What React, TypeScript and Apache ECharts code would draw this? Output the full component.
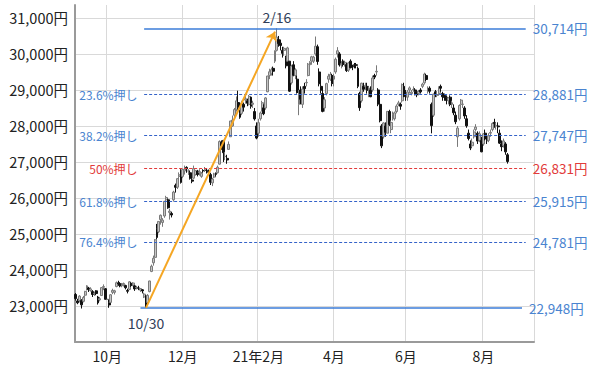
import React, { useEffect, useRef } from 'react';
import * as echarts from 'echarts';

// [date, open, close, low, high]
const candleRows: [string, number, number, number, number][] = [
  ['2020-09-04', 23320, 23205, 23150, 23360],
  ['2020-09-07', 23140, 23089, 23050, 23200],
  ['2020-09-08', 23150, 23274, 23100, 23300],
  ['2020-09-09', 23150, 23032, 22930, 23190],
  ['2020-09-10', 23130, 23235, 23100, 23280],
  ['2020-09-11', 23300, 23406, 23230, 23420],
  ['2020-09-14', 23480, 23559, 23430, 23580],
  ['2020-09-15', 23500, 23454, 23390, 23530],
  ['2020-09-16', 23430, 23475, 23400, 23520],
  ['2020-09-17', 23400, 23319, 23250, 23440],
  ['2020-09-18', 23340, 23360, 23280, 23400],
  ['2020-09-23', 23420, 23346, 23300, 23440],
  ['2020-09-24', 23250, 23087, 23040, 23280],
  ['2020-09-25', 23170, 23204, 23130, 23250],
  ['2020-09-28', 23290, 23511, 23280, 23520],
  ['2020-09-29', 23520, 23539, 23440, 23600],
  ['2020-09-30', 23480, 23185, 23180, 23500],
  ['2020-10-01', 23185, 23185, 23185, 23185],
  ['2020-10-02', 23100, 23029, 22950, 23180],
  ['2020-10-05', 23100, 23312, 23080, 23330],
  ['2020-10-06', 23380, 23433, 23330, 23480],
  ['2020-10-07', 23380, 23422, 23320, 23450],
  ['2020-10-08', 23540, 23647, 23520, 23680],
  ['2020-10-09', 23640, 23619, 23560, 23700],
  ['2020-10-12', 23620, 23558, 23520, 23660],
  ['2020-10-13', 23560, 23601, 23520, 23640],
  ['2020-10-14', 23590, 23626, 23540, 23650],
  ['2020-10-15', 23570, 23507, 23460, 23590],
  ['2020-10-16', 23430, 23410, 23350, 23480],
  ['2020-10-19', 23460, 23671, 23440, 23690],
  ['2020-10-20', 23630, 23567, 23530, 23660],
  ['2020-10-21', 23580, 23639, 23550, 23660],
  ['2020-10-22', 23560, 23474, 23420, 23580],
  ['2020-10-23', 23500, 23516, 23460, 23560],
  ['2020-10-26', 23500, 23494, 23440, 23560],
  ['2020-10-27', 23440, 23485, 23390, 23500],
  ['2020-10-28', 23450, 23418, 23350, 23470],
  ['2020-10-29', 23250, 23331, 23220, 23370],
  ['2020-10-30', 23280, 22977, 22948, 23300],
  ['2020-11-02', 23100, 23295, 23050, 23330],
  ['2020-11-04', 23400, 23695, 23380, 23700],
  ['2020-11-05', 23960, 24105, 23940, 24150],
  ['2020-11-06', 24200, 24325, 24120, 24400],
  ['2020-11-09', 24350, 24839, 24340, 24860],
  ['2020-11-10', 25150, 24905, 24850, 25280],
  ['2020-11-11', 25060, 25349, 25020, 25350],
  ['2020-11-12', 25400, 25520, 25260, 25540],
  ['2020-11-13', 25320, 25385, 25200, 25440],
  ['2020-11-16', 25500, 25906, 25450, 25920],
  ['2020-11-17', 25950, 26014, 25850, 26060],
  ['2020-11-18', 25950, 25728, 25700, 25980],
  ['2020-11-19', 25600, 25634, 25400, 25700],
  ['2020-11-20', 25570, 25527, 25460, 25620],
  ['2020-11-24', 25950, 26165, 25900, 26200],
  ['2020-11-25', 26350, 26296, 26150, 26400],
  ['2020-11-26', 26300, 26537, 26250, 26550],
  ['2020-11-27', 26600, 26644, 26500, 26710],
  ['2020-11-30', 26750, 26433, 26400, 26800],
  ['2020-12-01', 26600, 26787, 26550, 26820],
  ['2020-12-02', 26750, 26800, 26650, 26900],
  ['2020-12-03', 26850, 26809, 26700, 26880],
  ['2020-12-04', 26750, 26751, 26640, 26800],
  ['2020-12-07', 26700, 26547, 26510, 26760],
  ['2020-12-08', 26500, 26467, 26410, 26550],
  ['2020-12-09', 26550, 26817, 26530, 26900],
  ['2020-12-10', 26650, 26756, 26620, 26780],
  ['2020-12-11', 26750, 26652, 26600, 26780],
  ['2020-12-14', 26700, 26732, 26620, 26800],
  ['2020-12-15', 26600, 26687, 26560, 26720],
  ['2020-12-16', 26760, 26757, 26700, 26800],
  ['2020-12-17', 26800, 26806, 26720, 26860],
  ['2020-12-18', 26770, 26763, 26680, 26810],
  ['2020-12-21', 26740, 26714, 26650, 26790],
  ['2020-12-22', 26650, 26436, 26360, 26700],
  ['2020-12-23', 26420, 26524, 26330, 26560],
  ['2020-12-24', 26580, 26668, 26550, 26700],
  ['2020-12-25', 26680, 26656, 26600, 26710],
  ['2020-12-28', 26700, 26854, 26680, 26900],
  ['2020-12-29', 26940, 27568, 26930, 27600],
  ['2020-12-30', 27550, 27444, 27340, 27600],
  ['2021-01-04', 27600, 27258, 27000, 27600],
  ['2021-01-05', 27150, 27158, 27050, 27280],
  ['2021-01-06', 27100, 27055, 26950, 27200],
  ['2021-01-07', 27350, 27490, 27340, 27570],
  ['2021-01-08', 27700, 28139, 27700, 28140],
  ['2021-01-12', 28000, 28164, 27980, 28290],
  ['2021-01-13', 28300, 28456, 28250, 28500],
  ['2021-01-14', 28450, 28698, 28400, 28820],
  ['2021-01-15', 28650, 28519, 28450, 28980],
  ['2021-01-18', 28350, 28242, 28200, 28450],
  ['2021-01-19', 28350, 28633, 28300, 28700],
  ['2021-01-20', 28600, 28523, 28400, 28650],
  ['2021-01-21', 28720, 28756, 28620, 28850],
  ['2021-01-22', 28700, 28631, 28550, 28760],
  ['2021-01-25', 28600, 28822, 28570, 28860],
  ['2021-01-26', 28800, 28546, 28480, 28810],
  ['2021-01-27', 28600, 28635, 28500, 28700],
  ['2021-01-28', 28400, 28197, 28150, 28500],
  ['2021-01-29', 28000, 27663, 27630, 28100],
  ['2021-02-01', 27800, 28091, 27700, 28200],
  ['2021-02-02', 28200, 28362, 28150, 28400],
  ['2021-02-03', 28500, 28646, 28400, 28700],
  ['2021-02-04', 28500, 28341, 28300, 28600],
  ['2021-02-05', 28500, 28779, 28450, 28800],
  ['2021-02-08', 28950, 29388, 28940, 29390],
  ['2021-02-09', 29400, 29505, 29300, 29590],
  ['2021-02-10', 29450, 29562, 29400, 29620],
  ['2021-02-12', 29600, 29520, 29400, 29650],
  ['2021-02-15', 29800, 30084, 29750, 30100],
  ['2021-02-16', 30100, 30467, 30070, 30714],
  ['2021-02-17', 30400, 30292, 30200, 30500],
  ['2021-02-18', 30300, 30236, 30100, 30400],
  ['2021-02-19', 30100, 30017, 29900, 30200],
  ['2021-02-22', 30100, 30156, 29950, 30200],
  ['2021-02-24', 29900, 29671, 29600, 29950],
  ['2021-02-25', 29800, 30168, 29800, 30200],
  ['2021-02-26', 29800, 28966, 28950, 29800],
  ['2021-03-01', 29200, 29663, 29150, 29700],
  ['2021-03-02', 29700, 29408, 29380, 29800],
  ['2021-03-03', 29400, 29559, 29300, 29600],
  ['2021-03-04', 29300, 28930, 28900, 29400],
  ['2021-03-05', 28600, 28864, 28300, 29000],
  ['2021-03-08', 29000, 28743, 28600, 29100],
  ['2021-03-09', 28600, 29027, 28500, 29100],
  ['2021-03-10', 29100, 29036, 28900, 29200],
  ['2021-03-11', 29200, 29211, 29100, 29300],
  ['2021-03-12', 29400, 29717, 29380, 29750],
  ['2021-03-15', 29700, 29766, 29600, 29800],
  ['2021-03-16', 29800, 29921, 29700, 29950],
  ['2021-03-17', 29800, 29914, 29750, 29950],
  ['2021-03-18', 30000, 30216, 29950, 30485],
  ['2021-03-19', 30200, 29792, 29700, 30260],
  ['2021-03-22', 29500, 29174, 29100, 29600],
  ['2021-03-23', 29100, 28995, 28900, 29200],
  ['2021-03-24', 28900, 28405, 28380, 29000],
  ['2021-03-25', 28500, 28729, 28400, 28800],
  ['2021-03-26', 28900, 29176, 28850, 29200],
  ['2021-03-29', 29300, 29384, 29200, 29450],
  ['2021-03-30', 29300, 29432, 29250, 29500],
  ['2021-03-31', 29400, 29178, 29100, 29450],
  ['2021-04-01', 29300, 29388, 29100, 29450],
  ['2021-04-02', 29500, 29854, 29450, 29900],
  ['2021-04-05', 30000, 30089, 29900, 30190],
  ['2021-04-06', 30000, 29696, 29650, 30050],
  ['2021-04-07', 29700, 29730, 29600, 29800],
  ['2021-04-08', 29800, 29708, 29650, 29850],
  ['2021-04-09', 29700, 29768, 29650, 29800],
  ['2021-04-12', 29700, 29538, 29500, 29750],
  ['2021-04-13', 29550, 29751, 29500, 29780],
  ['2021-04-14', 29800, 29620, 29600, 29850],
  ['2021-04-15', 29650, 29642, 29550, 29700],
  ['2021-04-16', 29700, 29683, 29600, 29750],
  ['2021-04-19', 29700, 29685, 29600, 29750],
  ['2021-04-20', 29600, 29100, 29050, 29650],
  ['2021-04-21', 28900, 28508, 28420, 28950],
  ['2021-04-22', 28700, 29188, 28650, 29200],
  ['2021-04-23', 29100, 29020, 28950, 29200],
  ['2021-04-26', 29100, 29126, 29000, 29200],
  ['2021-04-27', 29100, 28991, 28900, 29200],
  ['2021-04-28', 28900, 29053, 28800, 29100],
  ['2021-04-30', 29000, 28812, 28800, 29100],
  ['2021-05-06', 29000, 29331, 28950, 29400],
  ['2021-05-07', 29400, 29357, 29300, 29450],
  ['2021-05-10', 29500, 29518, 29400, 29685],
  ['2021-05-11', 29000, 28608, 28550, 29050],
  ['2021-05-12', 28600, 28147, 28100, 28800],
  ['2021-05-13', 28000, 27448, 27385, 28050],
  ['2021-05-14', 27700, 28084, 27650, 28100],
  ['2021-05-17', 28000, 27824, 27700, 28100],
  ['2021-05-18', 27800, 28406, 27800, 28410],
  ['2021-05-19', 28400, 28044, 28000, 28450],
  ['2021-05-20', 27900, 28098, 27800, 28150],
  ['2021-05-21', 28200, 28317, 28150, 28400],
  ['2021-05-24', 28200, 28364, 28150, 28400],
  ['2021-05-25', 28400, 28553, 28350, 28600],
  ['2021-05-26', 28600, 28642, 28550, 28700],
  ['2021-05-27', 28600, 28549, 28450, 28650],
  ['2021-05-28', 28700, 29149, 28650, 29180],
  ['2021-05-31', 29100, 28860, 28800, 29200],
  ['2021-06-01', 28900, 28814, 28700, 29000],
  ['2021-06-02', 28800, 28946, 28700, 29000],
  ['2021-06-03', 29000, 29058, 28900, 29100],
  ['2021-06-04', 28900, 28941, 28850, 29000],
  ['2021-06-07', 29000, 29019, 28950, 29100],
  ['2021-06-08', 29000, 28963, 28850, 29050],
  ['2021-06-09', 28950, 28860, 28800, 29000],
  ['2021-06-10', 28900, 28958, 28850, 29000],
  ['2021-06-11', 29000, 28948, 28900, 29050],
  ['2021-06-14', 29100, 29161, 29050, 29200],
  ['2021-06-15', 29200, 29441, 29150, 29480],
  ['2021-06-16', 29400, 29291, 29250, 29450],
  ['2021-06-17', 29000, 29018, 28900, 29100],
  ['2021-06-18', 29050, 28964, 28900, 29100],
  ['2021-06-21', 28600, 28010, 27795, 28650],
  ['2021-06-22', 28300, 28884, 28250, 28900],
  ['2021-06-23', 28950, 28874, 28800, 29000],
  ['2021-06-24', 28850, 28875, 28800, 28950],
  ['2021-06-25', 28900, 29066, 28850, 29100],
  ['2021-06-28', 29100, 29048, 28950, 29150],
  ['2021-06-29', 28900, 28812, 28700, 28950],
  ['2021-06-30', 28850, 28791, 28700, 28900],
  ['2021-07-01', 28800, 28707, 28600, 28850],
  ['2021-07-02', 28700, 28783, 28600, 28800],
  ['2021-07-05', 28800, 28598, 28550, 28850],
  ['2021-07-06', 28600, 28643, 28500, 28700],
  ['2021-07-07', 28500, 28366, 28300, 28600],
  ['2021-07-08', 28300, 28118, 28050, 28400],
  ['2021-07-09', 27700, 27940, 27419, 28000],
  ['2021-07-12', 28200, 28569, 28150, 28600],
  ['2021-07-13', 28600, 28718, 28500, 28750],
  ['2021-07-14', 28600, 28608, 28500, 28700],
  ['2021-07-15', 28500, 28279, 28200, 28550],
  ['2021-07-16', 28200, 28003, 27950, 28300],
  ['2021-07-19', 27800, 27652, 27600, 27900],
  ['2021-07-20', 27500, 27388, 27330, 27600],
  ['2021-07-21', 27450, 27548, 27400, 27650],
  ['2021-07-26', 27700, 27833, 27650, 27900],
  ['2021-07-27', 27900, 27970, 27850, 28050],
  ['2021-07-28', 27800, 27581, 27500, 27850],
  ['2021-07-29', 27600, 27782, 27550, 27850],
  ['2021-07-30', 27600, 27283, 27270, 27700],
  ['2021-08-02', 27500, 27781, 27450, 27800],
  ['2021-08-03', 27800, 27641, 27600, 27900],
  ['2021-08-04', 27600, 27584, 27500, 27700],
  ['2021-08-05', 27600, 27728, 27550, 27800],
  ['2021-08-06', 27800, 27820, 27700, 27900],
  ['2021-08-10', 27900, 28070, 27850, 28100],
  ['2021-08-11', 28100, 28070, 27950, 28200],
  ['2021-08-12', 28000, 28015, 27900, 28100],
  ['2021-08-13', 28000, 27977, 27800, 28100],
  ['2021-08-16', 27800, 27523, 27500, 27900],
  ['2021-08-17', 27500, 27424, 27300, 27600],
  ['2021-08-18', 27450, 27585, 27400, 27650],
  ['2021-08-19', 27500, 27281, 27200, 27550],
  ['2021-08-20', 27200, 27013, 26954, 27250],
];

// empty trading days to the right of the last candle
const futureDays = [
  '2021-08-23', '2021-08-24', '2021-08-25', '2021-08-26', '2021-08-27',
  '2021-08-30', '2021-08-31', '2021-09-01', '2021-09-02', '2021-09-03',
  '2021-09-06', '2021-09-07', '2021-09-08', '2021-09-09',
];

const monthTickDates = ['2020-10-01', '2020-12-01', '2021-02-01', '2021-04-01', '2021-06-01', '2021-08-02'];
const monthTickLabels = ['10月', '12月', '21年2月', '4月', '6月', '8月'];

const fibLevels = [30714, 28881, 27747, 26831, 25915, 24781, 22948];
const fibNames = ['', '23.6%押し', '38.2%押し', '50%押し', '61.8%押し', '76.4%押し', ''];
const fibStart = '2020-10-29';
const fibEnd = '2021-09-03';
const lowLineStart = '2020-10-27';
const lowLineEnd = '2021-09-01';

const swingLow = { date: '2020-10-30', value: 22948, label: '10/30' };
const swingHigh = { date: '2021-02-16', value: 30714, label: '2/16' };
const arrowTip = { date: '2021-02-15', value: 30620 };

const FONT = "'Noto Sans CJK JP', 'Noto Sans', sans-serif";
const BLUE_LINE = '#3b7dd8';
const BLUE_DASH = '#3563c9';
const BLUE_TEXT = '#4a84d0';
const RED = '#e23b3b';

const fmt = (v: number) => v.toLocaleString('en-US') + '円';

export default function App() {
  const ref = useRef<HTMLDivElement>(null);

  useEffect(() => {
    if (!ref.current) return;
    const chart = echarts.init(ref.current, null, { renderer: 'svg' });
    const dates = [...candleRows.map((r) => r[0]), ...futureDays];
    const values = candleRows.map((r) => [r[1], r[2], r[3], r[4]]);
    const last = fibLevels.length - 1;

    const levelLines = fibLevels.map((v, i) => {
      const edge = i === 0 || i === last;
      const half = fibNames[i] === '50%押し';
      const color = half ? RED : edge ? BLUE_LINE : BLUE_DASH;
      return [
        {
          coord: [i === last ? lowLineStart : fibStart, v],
          symbol: 'none',
          lineStyle: { color, width: edge ? 1.5 : 1.2, type: edge ? 'solid' : [3, 2] },
          label: {
            show: true,
            position: 'end',
            formatter: () => fmt(v),
            color: half ? RED : BLUE_TEXT,
            fontSize: 13.5,
            fontFamily: FONT,
            distance: 7,
          },
        },
        { coord: [i === last ? lowLineEnd : fibEnd, v], symbol: 'none' },
      ];
    });

    const arrow = [
      {
        coord: [swingLow.date, swingLow.value],
        symbol: 'none',
        lineStyle: { color: '#f5a623', width: 2, type: 'solid' },
        label: { show: false },
      },
      { coord: [arrowTip.date, arrowTip.value], symbol: 'arrow', symbolSize: 9 },
    ];

    const leftLabels = fibLevels
      .map((v, i) => ({ v, name: fibNames[i] }))
      .filter((d) => d.name)
      .map((d) => ({
        coord: [fibStart, d.v],
        symbol: 'circle',
        symbolSize: 1,
        itemStyle: { color: 'rgba(0,0,0,0)' },
        label: {
          show: true,
          position: 'left',
          distance: 6,
          formatter: () => d.name,
          color: d.name === '50%押し' ? RED : BLUE_TEXT,
          fontSize: 12,
          fontFamily: FONT,
        },
      }));

    const swingLabels = [
      {
        coord: [swingLow.date, swingLow.value],
        symbol: 'circle',
        symbolSize: 1,
        itemStyle: { color: 'rgba(0,0,0,0)' },
        label: { show: true, position: 'bottom', distance: 8, formatter: () => swingLow.label, color: '#2f3d58', fontSize: 14, fontFamily: FONT },
      },
      {
        coord: [swingHigh.date, swingHigh.value],
        symbol: 'circle',
        symbolSize: 1,
        itemStyle: { color: 'rgba(0,0,0,0)' },
        label: { show: true, position: 'top', distance: 4, formatter: () => swingHigh.label, color: '#2f3d58', fontSize: 14, fontFamily: FONT },
      },
    ];

    const isTick = (_i: number, v: string) => monthTickDates.includes(v);

    chart.setOption({
      animation: false,
      backgroundColor: '#ffffff',
      textStyle: { fontFamily: FONT },
      grid: { left: 75, right: 66, top: 5, bottom: 28, containLabel: false },
      xAxis: {
        type: 'category',
        data: dates,
        boundaryGap: true,
        axisLine: { lineStyle: { color: '#9a9a9a', width: 2 } },
        axisTick: { show: false },
        axisLabel: {
          interval: isTick,
          formatter: (v: string) => monthTickLabels[monthTickDates.indexOf(v)] ?? '',
          color: '#222',
          fontSize: 14,
          margin: 7,
          fontFamily: FONT,
        },
        splitLine: { show: true, interval: isTick, lineStyle: { color: '#d9d9d9', width: 1 } },
      },
      yAxis: {
        type: 'value',
        min: 22000,
        max: 31360,
        interval: 1000,
        axisLine: { show: true, lineStyle: { color: '#9a9a9a', width: 2 } },
        axisTick: { show: false },
        axisLabel: {
          formatter: (v: number) => (v >= 23000 && v % 1000 === 0 ? fmt(v) : ''),
          showMaxLabel: false,
          color: '#222',
          fontSize: 14.5,
          margin: 7,
          fontFamily: FONT,
        },
        splitLine: { show: true, showMaxLine: false, lineStyle: { color: '#d9d9d9', width: 1 } },
      },
      series: [
        {
          type: 'candlestick',
          data: values,
          barWidth: 2.4,
          itemStyle: {
            color: '#c4c4c4',
            color0: '#111111',
            borderColor: '#7a7a7a',
            borderColor0: '#111111',
            borderWidth: 1,
          },
          markLine: {
            silent: true,
            symbol: 'none',
            animation: false,
            data: [...levelLines, arrow],
          },
          markPoint: {
            silent: true,
            animation: false,
            data: [...leftLabels, ...swingLabels],
          },
        },
      ],
    });

    return () => chart.dispose();
  }, []);

  return <div ref={ref} style={{ position: 'fixed', left: 0, top: 0, width: 600, height: 370 }} />;
}
